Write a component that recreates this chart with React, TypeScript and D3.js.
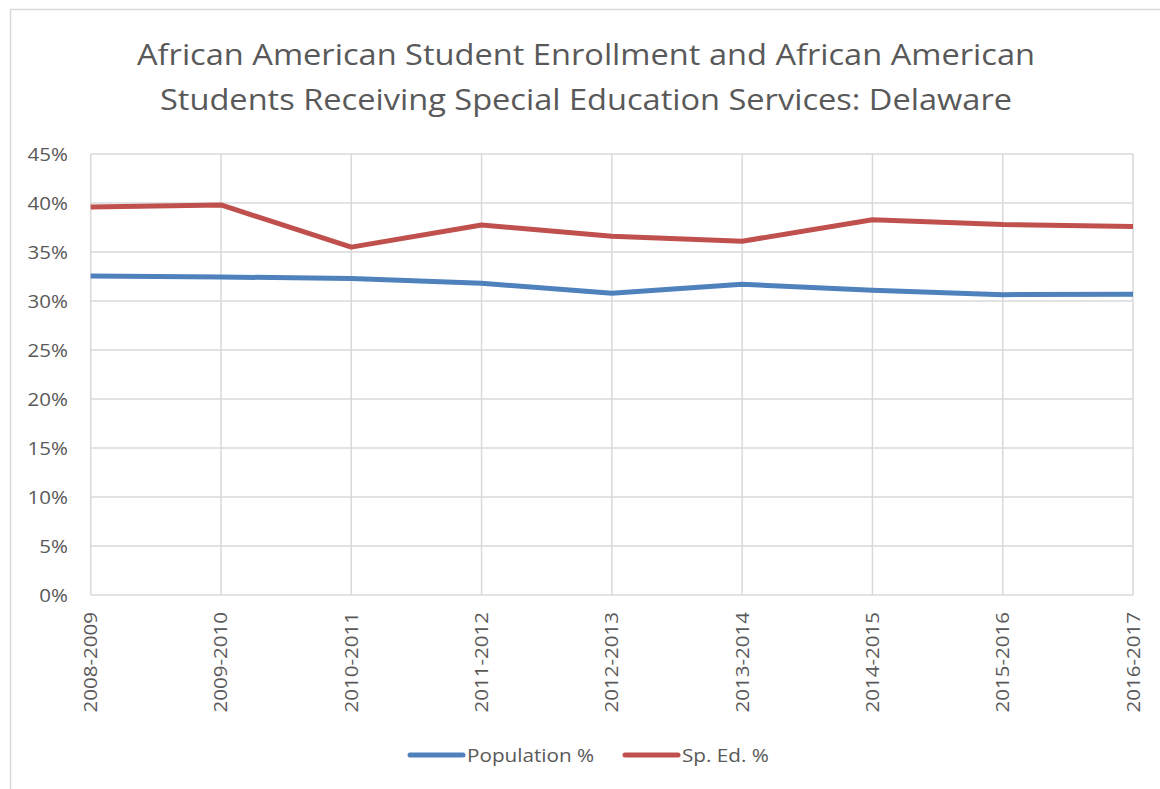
import React from "react";
import * as d3 from "d3";

const categories = ["2008-2009","2009-2010","2010-2011","2011-2012","2012-2013","2013-2014","2014-2015","2015-2016","2016-2017"];
const populationPct = [32.55, 32.45, 32.3, 31.8, 30.8, 31.7, 31.1, 30.65, 30.7];
const spEdPct = [39.6, 39.8, 35.5, 37.75, 36.6, 36.1, 38.3, 37.8, 37.6];
const yTicks = [0, 5, 10, 15, 20, 25, 30, 35, 40, 45];
const seriesNames = ["Population %", "Sp. Ed. %"];
const titleLines = ["African American Student Enrollment and African American", "Students Receiving Special Education Services: Delaware"];

const W = 1160, H = 789;
const font = "'Open Sans', 'Noto Sans', sans-serif";
const textColor = "#595959";
const grid = "#D9D9D9";
const colors = ["#4F81BD", "#C0504D"];
const SX = 1.14;

export default function App() {
  const x = d3.scalePoint<string>().domain(categories).range([90.7, 1133]);
  const y = d3.scaleLinear().domain([0, 45]).range([595, 154]);
  const line = d3.line<number>().x((_, i) => x(categories[i])!).y(d => y(d));
  const series = [populationPct, spEdPct];
  return (
    <svg width={W} height={H} style={{ position: "absolute", left: 0, top: 0, background: "#fff" }} fontFamily={font}>
      <rect x={10.5} y={9.5} width={W + 10} height={H + 10} fill="#fff" stroke={grid} strokeWidth={1.5} />
      {titleLines.map((t, i) => (
        <text key={i} x={586} y={65 + i * 45} textAnchor="middle" fontSize={30} fill={textColor}
          textLength={i === 0 ? 898 : 852} lengthAdjust="spacingAndGlyphs">{t}</text>
      ))}
      {yTicks.map(t => (
        <g key={t}>
          <line x1={90.7} x2={1133} y1={y(t)} y2={y(t)} stroke={grid} strokeWidth={1.5} />
          <text transform={`translate(68,${y(t) + 6.5}) scale(${SX},1)`} textAnchor="end" fontSize={18} fill={textColor}>{t}%</text>
        </g>
      ))}
      {categories.map(c => (
        <g key={c}>
          <line x1={x(c)} x2={x(c)} y1={154} y2={595} stroke={grid} strokeWidth={1.5} />
          <text transform={`translate(${x(c)! + 6.5},612) rotate(-90) scale(${SX},1)`} textAnchor="end" fontSize={18} fill={textColor}>{c}</text>
        </g>
      ))}
      {series.map((s, i) => (
        <path key={i} d={line(s)!} fill="none" stroke={colors[i]} strokeWidth={5} strokeLinejoin="round" />
      ))}
      {seriesNames.map((n, i) => {
        const lx = i === 0 ? 410 : 625;
        return (
          <g key={n}>
            <line x1={lx} x2={lx + 53} y1={755} y2={755} stroke={colors[i]} strokeWidth={5} strokeLinecap="round" />
            <text transform={`translate(${lx + 57},761.5) scale(${SX + 0.01},1)`} fontSize={18} fill={textColor}>{n}</text>
          </g>
        );
      })}
    </svg>
  );
}
